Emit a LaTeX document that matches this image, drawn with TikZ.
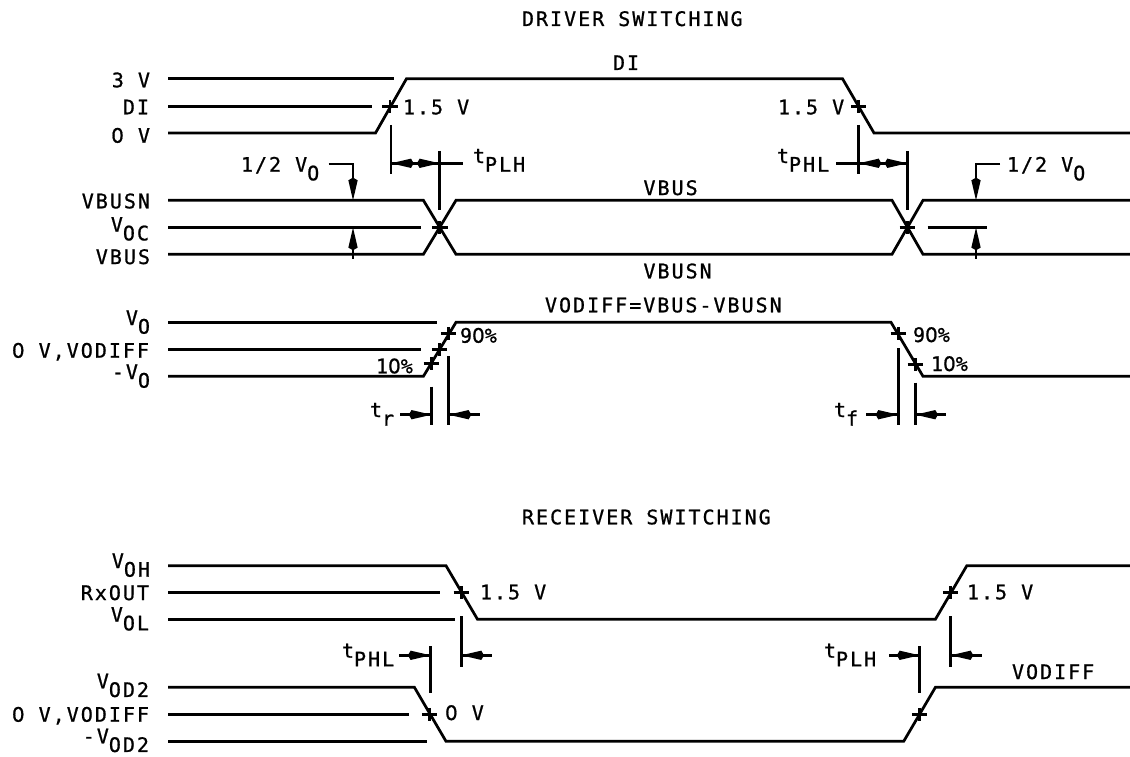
\documentclass[tikz,border=0pt]{standalone}
\usepackage{fontspec}
\setmainfont{DejaVu Sans Mono}[LetterSpace=10,FakeBold=0.9]
\newfontfamily\zerofont{DejaVu Sans}[LetterSpace=5,FakeBold=0.9]
\usetikzlibrary{arrows.meta}
\newcommand\zr{{\zerofont 0}}
\newcommand\sbs[2]{#1\raisebox{-6.5pt}{#2}}
\tikzset{
  x=0.75pt,y=-0.75pt,
  wave/.style={line width=2.05pt,line cap=butt,line join=miter},
  txt/.style={inner sep=0pt,outer sep=0pt,font=\fontsize{15}{18}\selectfont},
  lw/.style={txt,anchor=base west},
  le/.style={txt,anchor=base east},
  head/.style={line width=1.4pt,-{Kite[length=17pt,width=7pt,inset=2pt]}},
  pics/plusmark/.style={code={
    \draw[wave] (-7.7,0) -- (7.7,0) (0,-6.5) -- (0,6.5);}}
}
\begin{document}
\begin{tikzpicture}
\useasboundingbox (0,0) rectangle (1130,756);
% --- DI
\draw[wave] (168,78.7) -- (393.5,78.7);
\draw[wave] (168,106.5) -- (372,106.5);
\draw[wave] (168,133) -- (375.5,133) -- (406.5,78.7) -- (842.5,78.7) -- (874,133) -- (1130,133);
\pic at (390,106.5) {plusmark};
\pic at (858.7,106.5) {plusmark};
% --- bus
\draw[wave] (168,200.3) -- (423.4,200.3) -- (456,254.3) -- (892,254.3) -- (923,200.3) -- (1130,200.3);
\draw[wave] (168,254.3) -- (423.4,254.3) -- (456,200.3) -- (892,200.3) -- (923,254.3) -- (1130,254.3);
\draw[wave] (168,227.6) -- (421,227.6);
\draw[wave] (927.5,227.6) -- (987.3,227.6);
\pic at (439.8,227.6) {plusmark};
\pic at (907.3,227.6) {plusmark};
% t_PLH / t_PHL driver
\draw[wave] (391,125) -- (391,174);
\draw[wave] (439.6,151) -- (439.6,210);
\draw[wave] (391,163.3) -- (463,163.3);
\draw[head] (416,163.3) -- (391,163.3);
\draw[head] (415,163.3) -- (439.6,163.3);
\draw[wave] (858.7,125) -- (858.7,174);
\draw[wave] (907.3,151) -- (907.3,210);
\draw[wave] (836,163.3) -- (907.3,163.3);
\draw[head] (884,163.3) -- (858.7,163.3);
\draw[head] (883,163.3) -- (907.3,163.3);
% 1/2 VO
\draw[wave] (328.6,164) -- (353,164) -- (353,185);
\draw[head] (353,175) -- (353,200.3);
\draw[wave] (353,235) -- (353,259);
\draw[head] (353,253) -- (353,227.6);
\draw[wave] (1000,164) -- (976,164) -- (976,185);
\draw[head] (976,175) -- (976,200.3);
\draw[wave] (976,235) -- (976,259);
\draw[head] (976,253) -- (976,227.6);
% --- VODIFF
\draw[wave] (168,322.3) -- (437,322.3);
\draw[wave] (168,349.7) -- (421,349.7);
\draw[wave] (168,376.3) -- (423.4,376.3) -- (456,322.3) -- (891,322.3) -- (923,376.3) -- (1130,376.3);
\pic at (448.6,333.3) {plusmark};
\pic at (439.6,349.7) {plusmark};
\pic at (431.4,363.3) {plusmark};
\pic at (898.3,333.3) {plusmark};
\pic at (915.3,364.7) {plusmark};
\draw[wave] (431.5,386.7) -- (431.5,425);
\draw[wave] (448.6,356) -- (448.6,425);
\draw[wave] (400,414.7) -- (431.5,414.7);
\draw[head] (405,414.7) -- (431.5,414.7);
\draw[wave] (448.6,414.7) -- (480,414.7);
\draw[head] (475,414.7) -- (448.6,414.7);
\draw[wave] (898.3,348) -- (898.3,425);
\draw[wave] (915.3,382.7) -- (915.3,425);
\draw[wave] (866,414.7) -- (898.3,414.7);
\draw[head] (872,414.7) -- (898.3,414.7);
\draw[wave] (915.3,414.7) -- (946,414.7);
\draw[head] (941,414.7) -- (915.3,414.7);
% --- RxOUT
\draw[wave] (168,565.7) -- (446,565.7) -- (477.5,619.3) -- (935.4,619.3) -- (966.8,565.7) -- (1130,565.7);
\draw[wave] (168,592.6) -- (440,592.6);
\draw[wave] (168,619.3) -- (454.8,619.3);
\pic at (461.3,592.6) {plusmark};
\pic at (950.6,592.6) {plusmark};
% --- VODIFF receiver
\draw[wave] (168,687.3) -- (414.4,687.3) -- (446,741.3) -- (903.7,741.3) -- (935.4,687.3) -- (1130,687.3);
\draw[wave] (168,714.3) -- (409,714.3);
\draw[wave] (168,741.3) -- (427.4,741.3);
\pic at (429.5,714.3) {plusmark};
\pic at (919.6,714.3) {plusmark};
\draw[wave] (461.3,616) -- (461.3,666.7);
\draw[wave] (430.6,646) -- (430.6,693.3);
\draw[wave] (399,655.3) -- (430.6,655.3);
\draw[head] (405,655.3) -- (430.6,655.3);
\draw[wave] (461.3,655.3) -- (492,655.3);
\draw[head] (487,655.3) -- (461.3,655.3);
\draw[wave] (950.6,616) -- (950.6,666.7);
\draw[wave] (919.6,646) -- (919.6,693.3);
\draw[wave] (889.3,655.3) -- (919.6,655.3);
\draw[head] (894,655.3) -- (919.6,655.3);
\draw[wave] (950.6,655.3) -- (981.6,655.3);
\draw[head] (976,655.3) -- (950.6,655.3);
% --- Text
\node[lw] (title1) at (522,26) {DRIVER SWITCHING};
\node[lw] (diT) at (613,70) {DI};
\node[le] (l3v) at (150,87.3) {3 V};
\node[le] (ldi) at (149,114.3) {DI};
\node[le] (l0v) at (150,142.7) {\zr{} V};
\node[lw] (v15a) at (403,114.3) {1.5 V};
\node[lw] (v15b) at (778,114.3) {1.5 V};
\node[lw] (tplh) at (473,163) {\sbs{t}{PLH}};
\node[lw] (tphl) at (777,163) {\sbs{t}{PHL}};
\node[lw] (halfa) at (241,171.7) {1/2 \sbs{V}{O}};
\node[lw] (halfb) at (1007,171.7) {1/2 \sbs{V}{O}};
\node[le] (lbusn) at (150,208.3) {VBUSN};
\node[le] (lvoc) at (149,231.7) {\sbs{V}{OC}};
\node[le] (lbus) at (150,264) {VBUS};
\node[lw] (busT) at (643.5,195) {VBUS};
\node[lw] (busnB) at (643.5,278.3) {VBUSN};
\node[lw] (vod) at (545,312.3) {VODIFF=VBUS-VBUSN};
\node[le] (lvo) at (150,325) {\sbs{V}{O}};
\node[le] (lod) at (149,357.7) {\zr{} V,VODIFF};
\node[le] (lmvo) at (150,379) {-\sbs{V}{O}};
\node[lw] (p90a) at (460,342.7) {9\zr{}\%};
\node[lw] (p10a) at (376,373.3) {1\zr{}\%};
\node[lw] (p90b) at (913,342) {9\zr{}\%};
\node[lw] (p10b) at (931,371) {1\zr{}\%};
\node[lw] (tr) at (370,417) {\sbs{t}{r}};
\node[lw] (tf) at (834,417) {\sbs{t}{f}};
\node[lw] (title2) at (522,524.3) {RECEIVER SWITCHING};
\node[le] (lvoh) at (150,568) {\sbs{V}{OH}};
\node[le] (lrx) at (149,600) {RxOUT};
\node[le] (lvol) at (149,621.7) {\sbs{V}{OL}};
\node[lw] (v15c) at (480,599.3) {1.5 V};
\node[lw] (v15d) at (967,599.3) {1.5 V};
\node[lw] (tphlb) at (342,657.7) {\sbs{t}{PHL}};
\node[lw] (tplhb) at (824,657.7) {\sbs{t}{PLH}};
\node[lw] (vodr) at (1012,679) {VODIFF};
\node[le] (lvod) at (149,688.3) {\sbs{V}{OD2}};
\node[le] (lod2) at (149,721.7) {\zr{} V,VODIFF};
\node[le] (lmvod) at (149,743.3) {-\sbs{V}{OD2}};
\node[lw] (v0) at (445,720) {\zr{} V};
\end{tikzpicture}
\end{document}
